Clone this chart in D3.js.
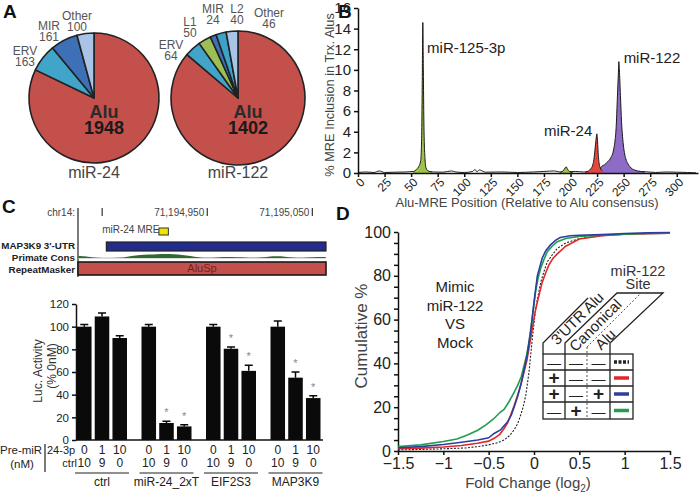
<!DOCTYPE html>
<html lang="en">
<head>
  <meta charset="UTF-8">
  <title>Alu MRE figure</title>
  <script src="https://cdnjs.cloudflare.com/ajax/libs/d3/7.8.5/d3.min.js"></script>
  <style>
    body {
      margin: 0;
      background: white;
    }
    svg {
      font-family: "Liberation Sans", Arial, sans-serif;
    }
    .axis path, .axis line {
      stroke: #111;
      stroke-width: 1.5;
    }
    .axis text {
      fill: #222;
    }
  </style>
</head>
<body>
  <script>
    // ---- A: repeat families hosting MREs
    var pie24Labels = ["Alu", "ERV", "MIR", "Other"];
    var pie24Values = [1948, 163, 161, 100];
    var pie122Labels = ["Alu", "ERV", "L1", "MIR", "L2", "Other"];
    var pie122Values = [1402, 64, 50, 24, 40, 46];

    // ---- B: MRE position along the Alu consensus
    var bTicks = [0, 25, 50, 75, 100, 125, 150, 175, 200, 225, 250, 275, 300];
    var noisePos = [0, 8, 15, 20, 25, 35, 45, 52, 70, 80, 88, 92, 100, 108, 110, 112, 114, 120, 135, 150, 165, 175, 185, 190, 205, 212, 270, 280, 290, 300, 310, 318];
    var noiseVal = [0.05, 0.1, 0.05, 0.2, 0.05, 0.08, 0.1, 0.15, 0.1, 0.08, 0.2, 0.1, 0.05, 0.15, 0.35, 0.1, 0.3, 0.08, 0.1, 0.05, 0.1, 0.15, 0.2, 0.1, 0.15, 0.1, 0.12, 0.05, 0.1, 0.08, 0.05, 0.02];
    var mir125Pos = [52, 55, 57, 59, 60, 60.5, 61, 61.5, 62, 63, 64, 66, 70];
    var mir125Val = [0.1, 0.35, 0.6, 1.2, 4, 9, 14.6, 10, 5, 1.5, 0.5, 0.2, 0.1];
    var bumpPos = [190, 193, 195, 196, 197, 199, 202];
    var bumpVal = [0.05, 0.2, 0.5, 0.6, 0.4, 0.15, 0.05];
    var mir24Pos = [214, 217, 219, 221, 222, 223, 224, 224.8, 225.5, 226, 227, 228, 230];
    var mir24Val = [0.1, 0.2, 0.4, 0.8, 1.3, 2.2, 3.2, 3.8, 3, 2, 0.9, 0.5, 0.2];
    var mir122Pos = [222, 226, 228, 230, 232, 234, 236, 238, 240, 241, 242, 243, 244, 245, 245.5, 246, 247, 248, 249, 250, 252, 254, 256, 258, 260, 263, 266, 270];
    var mir122Val = [0.3, 0.4, 0.5, 0.7, 0.8, 1, 1.2, 1.5, 2, 2.5, 3.2, 4.5, 7, 9.5, 10.8, 10, 7.5, 5, 3.5, 2.5, 1.4, 0.9, 0.6, 0.4, 0.3, 0.2, 0.15, 0.1];

    // ---- C: genome browser + luciferase
    var consPos = [71194827, 71194835, 71194842, 71194850, 71194860, 71194870, 71194878, 71194886, 71194894, 71194902, 71194910, 71194918, 71194926, 71194934, 71194942, 71194950, 71194958, 71194966, 71194974, 71194982, 71194990, 71195000, 71195008, 71195016, 71195024, 71195032, 71195040, 71195050, 71195058, 71195063];
    var consVal = [0.3, 0.25, 0.05, 0, 0, 0.05, 0.3, 0.45, 0.5, 0.55, 0.6, 0.55, 0.45, 0.3, 0.1, 0, 0.05, 0.15, 0.15, 0.1, 0, 0.05, 0.2, 0.25, 0.2, 0.05, 0, 0.1, 0.15, 0.1];
    var utrRange = [71194854, 71195063];
    var aluRange = [71194827, 71195063];
    var mreRange = [71194904, 71194913];

    var lucGroups = ["ctrl", "miR-24_2xT", "EIF2S3", "MAP3K9"];
    var pre24 = ["0", "1", "10"];
    var preCtrl = ["10", "9", "0"];
    var lucValues = [[100, 109, 90], [100, 15, 12], [100, 80.5, 61], [100, 55, 37]];
    var lucErrors = [[2, 3, 2], [2, 1.5, 1.5], [2, 1.5, 5], [5, 5, 2]];
    var lucSignif = [[false, false, false], [false, true, true], [false, true, true], [false, true, true]];

    // ---- D: cumulative fold change
    var mockX = [-1.5, -1.25, -1, -0.75, -0.62, -0.5, -0.4, -0.33, -0.27, -0.22, -0.18, -0.147, -0.12, -0.09, -0.055, -0.018, 0.018, 0.05, 0.074, 0.11, 0.147, 0.2, 0.257, 0.35, 0.5, 0.75, 1, 1.25, 1.5];
    var mockY = [0.5, 0.7, 1, 1.4, 2, 2.8, 3.8, 5, 7, 9.6, 12.5, 16.4, 20, 25.6, 36, 51.6, 65, 72, 77, 82, 86.4, 89.5, 92.5, 95, 97, 98.3, 99, 99.3, 99.5];
    var redX = [-1.5, -1.25, -1, -0.8, -0.625, -0.5, -0.44, -0.38, -0.33, -0.29, -0.257, -0.22, -0.18, -0.14, -0.11, -0.08, -0.055, -0.018, 0.01, 0.037, 0.09, 0.13, 0.165, 0.21, 0.257, 0.35, 0.5, 0.75, 1, 1.25, 1.5];
    var redY = [1, 1.3, 1.8, 2.5, 3.5, 4.5, 5.8, 7.5, 10.3, 13, 16.4, 20.5, 25.6, 31, 36, 41, 47, 56, 63, 68, 77, 81.5, 85, 88, 90, 93.5, 96.8, 98.3, 99, 99.2, 99.4];
    var blueX = [-1.5, -1.25, -1, -0.8, -0.62, -0.5, -0.44, -0.37, -0.33, -0.29, -0.25, -0.22, -0.18, -0.147, -0.11, -0.074, -0.037, 0, 0.037, 0.09, 0.13, 0.18, 0.24, 0.29, 0.4, 0.5, 0.75, 1, 1.25, 1.5];
    var blueY = [1.5, 2, 3, 4, 5, 6, 8, 9.6, 11.5, 13.4, 16.5, 20, 25, 30, 37, 44, 54.5, 68, 80, 88, 91.5, 94, 96.3, 97.5, 98.3, 98.5, 98.8, 99.3, 99.6, 99.8];
    var greenX = [-1.5, -1.25, -1, -0.85, -0.735, -0.62, -0.53, -0.45, -0.37, -0.33, -0.276, -0.23, -0.18, -0.14, -0.11, -0.08, -0.055, -0.018, 0.018, 0.045, 0.074, 0.11, 0.147, 0.2, 0.257, 0.35, 0.5, 0.75, 1, 1.25, 1.5];
    var greenY = [2, 2.8, 4.3, 5.5, 7.3, 9.5, 11.9, 14.5, 17.8, 19, 22.5, 26, 30, 34, 39, 44, 50, 61, 73, 79, 83.5, 87.5, 91, 93.5, 95.6, 97, 98, 98.5, 99, 99.3, 99.5];
    var dTicksX = [-1.5, -1, -0.5, 0, 0.5, 1, 1.5];
    var legUtr = ["\u2014", "+", "+", "\u2014"];
    var legCan = ["\u2014", "\u2014", "\u2014", "+"];
    var legAlu = ["\u2014", "\u2014", "+", "\u2014"];
    var legColors = ["#222", "#e3262b", "#2a3f9e", "#1f9e4c"];

    var w = 700;
    var h = 495;

    var svg = d3.select("body").append("svg")
      .attr("width", w)
      .attr("height", h);

    function panelLetter(t, x, y) {
      svg.append("text").attr("x", x).attr("y", y)
        .attr("font-size", 19).attr("font-weight", "bold").attr("fill", "#111")
        .text(t);
    }
    panelLetter("A", 3, 18);
    panelLetter("B", 338, 18);
    panelLetter("C", 2, 213);
    panelLetter("D", 336, 220);

    function zipPts(xs, ys) {
      return xs.map(function(x, i) { return [x, ys[i]]; });
    }

    // ================= A =================
    var pieColor = {Alu: "#c4504c", ERV: "#41a5c9", MIR: "#3d70b4", Other: "#a9c4e6", L1: "#9cbf55", L2: "#3aa3c7"};

    function drawPie(labels, values, cx, cy, r, title, outer) {
      var data = labels.map(function(l, i) { return {label: l, v: values[i]}; });
      var arcs = d3.pie().sort(null).value(function(d) { return d.v; })(data);
      var arc = d3.arc().innerRadius(0).outerRadius(r);
      var g = svg.append("g").attr("transform", "translate(" + cx + "," + cy + ")");
      g.selectAll("path")
        .data(arcs)
        .enter()
        .append("path")
        .attr("d", arc)
        .attr("fill", function(d) { return pieColor[d.data.label]; })
        .attr("stroke", "#222")
        .attr("stroke-width", 1.6)
        .attr("stroke-linejoin", "round");

      g.append("text").attr("x", 10).attr("y", 20).attr("text-anchor", "middle")
        .attr("font-size", 18).attr("font-weight", "bold").attr("fill", "#2b2b2b")
        .text(data[0].label);
      g.append("text").attr("x", 10).attr("y", 36).attr("text-anchor", "middle")
        .attr("font-size", 18).attr("font-weight", "bold").attr("fill", "#1a1a1a")
        .text(data[0].v);

      svg.append("text").attr("x", cx).attr("y", 178).attr("text-anchor", "middle")
        .attr("font-size", 16).attr("fill", "#444")
        .text(title);

      data.slice(1).forEach(function(d) {
        var p = outer[d.label];
        svg.append("text").attr("x", p[0]).attr("y", p[1]).attr("text-anchor", "middle")
          .attr("font-size", 12).attr("fill", "#555").text(d.label);
        svg.append("text").attr("x", p[0]).attr("y", p[1] + 11).attr("text-anchor", "middle")
          .attr("font-size", 12).attr("fill", "#555").text(d.v);
      });
    }

    drawPie(pie24Labels, pie24Values, 94, 98, 65, "miR-24",
      {ERV: [25, 55], MIR: [49, 30], Other: [77, 20]});
    drawPie(pie122Labels, pie122Values, 238, 98, 67, "miR-122",
      {ERV: [171, 49], L1: [190, 26], MIR: [213, 13], L2: [237, 13], Other: [269, 17]});

    // ================= B =================
    var bx = d3.scaleLinear().domain([0, 320]).range([358, 698]);
    var by = d3.scaleLinear().domain([0, 16]).range([173, 8]);

    var bArea = d3.area()
      .x(function(d) { return bx(d[0]); })
      .y0(by(0))
      .y1(function(d) { return by(d[1]); })
      .curve(d3.curveMonotoneX);
    var bLine = d3.line()
      .x(function(d) { return bx(d[0]); })
      .y(function(d) { return by(d[1]); })
      .curve(d3.curveMonotoneX);

    svg.append("path").attr("d", bLine(zipPts(noisePos, noiseVal)))
      .attr("fill", "none").attr("stroke", "#222").attr("stroke-width", 1);

    var bSeries = [
      {pts: zipPts(mir125Pos, mir125Val), fill: "#9cc24a"},
      {pts: zipPts(bumpPos, bumpVal), fill: "#9cc24a"},
      {pts: zipPts(mir122Pos, mir122Val), fill: "#8e6bc4"},
      {pts: zipPts(mir24Pos, mir24Val), fill: "#e5463d"}
    ];
    bSeries.forEach(function(s) {
      svg.append("path").attr("d", bArea(s.pts)).attr("fill", s.fill);
      svg.append("path").attr("d", bLine(s.pts))
        .attr("fill", "none").attr("stroke", "#1a1a1a").attr("stroke-width", 1);
    });

    svg.append("g").attr("class", "axis")
      .attr("transform", "translate(358,0)")
      .call(d3.axisLeft(by).tickValues(d3.range(0, 17, 2)).tickSize(4).tickSizeOuter(0))
      .selectAll("text").attr("font-size", 15).attr("font-family", null);

    var bxAxis = svg.append("g").attr("class", "axis")
      .attr("transform", "translate(0," + by(0) + ")")
      .call(d3.axisBottom(bx).tickValues(bTicks).tickSize(4).tickSizeOuter(0));
    bxAxis.selectAll("text")
      .attr("font-size", 12).attr("font-family", null)
      .attr("x", 0).attr("y", 0).attr("dy", "0.35em")
      .attr("text-anchor", "end")
      .attr("transform", "translate(4,7) rotate(-45)");

    svg.append("text").attr("x", 527).attr("y", 207).attr("text-anchor", "middle")
      .attr("font-size", 13).attr("fill", "#444")
      .text("Alu-MRE Position (Relative to Alu consensus)");
    svg.append("text").attr("transform", "translate(334,95) rotate(-90)")
      .attr("text-anchor", "middle").attr("font-size", 12.8).attr("fill", "#444")
      .text("% MRE Inclusion in Trx. Alus");

    svg.append("text").attr("x", bx(65)).attr("y", 53).attr("font-size", 15).attr("fill", "#222").text("miR-125-3p");
    svg.append("text").attr("x", bx(250)).attr("y", 63).attr("font-size", 15).attr("fill", "#222").text("miR-122");
    svg.append("text").attr("x", bx(175)).attr("y", 136).attr("font-size", 15).attr("fill", "#222").text("miR-24");

    // ================= C: browser =================
    var gx = d3.scaleLinear().domain([71194827, 71195063]).range([78, 326]);
    var gy = d3.scaleLinear().domain([0, 1]).range([258, 251]);

    svg.append("line").attr("x1", 78).attr("x2", 78).attr("y1", 208).attr("y2", 277)
      .attr("stroke", "#222").attr("stroke-width", 1.2);
    svg.append("text").attr("x", 75).attr("y", 216).attr("text-anchor", "end")
      .attr("font-size", 10).attr("fill", "#444").text("chr14:");

    [71194850, 71194950, 71195050].forEach(function(p) {
      svg.append("line").attr("x1", gx(p)).attr("x2", gx(p)).attr("y1", 208).attr("y2", 216)
        .attr("stroke", "#333").attr("stroke-width", 1.2);
      if (p !== 71194850) {
        svg.append("text").attr("x", gx(p) - 3).attr("y", 216).attr("text-anchor", "end")
          .attr("font-size", 10).attr("fill", "#444")
          .text(d3.format(",")(p));
      }
    });

    svg.append("text").attr("x", gx(71194850)).attr("y", 233)
      .attr("font-size", 10).attr("fill", "#444").text("miR-24 MRE");
    svg.append("rect").attr("x", gx(mreRange[0])).attr("y", 228)
      .attr("width", gx(mreRange[1]) - gx(mreRange[0])).attr("height", 7)
      .attr("fill", "#f2e400").attr("stroke", "#333").attr("stroke-width", 1);

    svg.append("rect").attr("x", gx(utrRange[0])).attr("y", 242)
      .attr("width", gx(utrRange[1]) - gx(utrRange[0])).attr("height", 9)
      .attr("fill", "#232b8c").attr("stroke", "#222").attr("stroke-width", 1.2);

    svg.append("line").attr("x1", 78).attr("x2", 326).attr("y1", gy(0)).attr("y2", gy(0))
      .attr("stroke", "#bbb").attr("stroke-width", 1);
    svg.append("path")
      .attr("d", d3.area().x(function(d) { return gx(d[0]); }).y0(gy(0)).y1(function(d) { return gy(d[1]); })
        .curve(d3.curveBasis)(zipPts(consPos, consVal)))
      .attr("fill", "#2f6b2f");

    svg.append("rect").attr("x", gx(aluRange[0])).attr("y", 262)
      .attr("width", gx(aluRange[1]) - gx(aluRange[0])).attr("height", 13)
      .attr("fill", "#c4504c").attr("stroke", "#1a1a1a").attr("stroke-width", 1.6);
    svg.append("text").attr("x", 202).attr("y", 272).attr("text-anchor", "middle")
      .attr("font-size", 11).attr("fill", "#6e2420").text("AluSp");

    [["MAP3K9 3'-UTR", 249], ["Primate Cons", 261], ["RepeatMasker", 273]].forEach(function(l) {
      svg.append("text").attr("x", 75).attr("y", l[1]).attr("text-anchor", "end")
        .attr("font-size", 9.8).attr("font-weight", "bold").attr("fill", "#222").text(l[0]);
    });

    // ================= C: luciferase bars =================
    var cx0 = d3.scaleBand().domain(lucGroups).range([70, 328]);
    var cx1 = d3.scaleBand().domain([0, 1, 2]).range([7, 57]).paddingInner(0.18);
    var cy = d3.scaleLinear().domain([0, 120]).range([440, 304]);

    svg.append("g").attr("class", "axis")
      .attr("transform", "translate(76,0)")
      .call(d3.axisLeft(cy).tickValues(d3.range(0, 121, 20)).tickSize(4).tickSizeOuter(0))
      .selectAll("text").attr("font-size", 11.5).attr("font-family", null);
    svg.append("line").attr("x1", 76).attr("x2", 323).attr("y1", cy(0)).attr("y2", cy(0))
      .attr("stroke", "#111").attr("stroke-width", 1.5);

    var cGroup = svg.selectAll(".lucgroup")
      .data(lucGroups)
      .enter()
      .append("g")
      .attr("class", "lucgroup")
      .attr("transform", function(d) { return "translate(" + cx0(d) + ",0)"; });

    cGroup.each(function(grp, gi) {
      var g = d3.select(this);
      var bars = lucValues[gi].map(function(v, i) {
        return {i: i, v: v, e: lucErrors[gi][i], s: lucSignif[gi][i]};
      });
      g.selectAll("rect")
        .data(bars)
        .enter()
        .append("rect")
        .attr("x", function(d) { return cx1(d.i); })
        .attr("y", function(d) { return cy(d.v); })
        .attr("width", cx1.bandwidth())
        .attr("height", function(d) { return cy(0) - cy(d.v); })
        .attr("fill", "#0a0a0a");
      g.selectAll(".err")
        .data(bars)
        .enter()
        .append("path")
        .attr("class", "err")
        .attr("d", function(d) {
          var xm = cx1(d.i) + cx1.bandwidth() / 2;
          return "M" + xm + "," + cy(d.v) + "V" + cy(d.v + d.e) + "M" + (xm - 4) + "," + cy(d.v + d.e) + "H" + (xm + 4);
        })
        .attr("stroke", "#0a0a0a").attr("stroke-width", 1.5).attr("fill", "none");
      g.selectAll(".star")
        .data(bars.filter(function(d) { return d.s; }))
        .enter()
        .append("text")
        .attr("class", "star")
        .attr("x", function(d) { return cx1(d.i) + cx1.bandwidth() / 2; })
        .attr("y", function(d) { return cy(d.v + d.e) - 5; })
        .attr("text-anchor", "middle").attr("font-size", 11).attr("fill", "#888")
        .text("*");
      g.selectAll(".p24")
        .data(pre24)
        .enter()
        .append("text")
        .attr("class", "p24")
        .attr("x", function(d, i) { return cx1(i) + cx1.bandwidth() / 2; })
        .attr("y", 454)
        .attr("text-anchor", "middle").attr("font-size", 12).attr("fill", "#222")
        .text(function(d) { return d; });
      g.selectAll(".pctrl")
        .data(preCtrl)
        .enter()
        .append("text")
        .attr("class", "pctrl")
        .attr("x", function(d, i) { return cx1(i) + cx1.bandwidth() / 2; })
        .attr("y", 467)
        .attr("text-anchor", "middle").attr("font-size", 12).attr("fill", "#222")
        .text(function(d) { return d; });
      g.append("line")
        .attr("x1", cx1(0) - 2).attr("x2", cx1(2) + cx1.bandwidth() + 2)
        .attr("y1", 473).attr("y2", 473)
        .attr("stroke", "#222").attr("stroke-width", 1.2);
      g.append("text")
        .attr("x", (cx1(0) + cx1(2) + cx1.bandwidth()) / 2).attr("y", 486)
        .attr("text-anchor", "middle").attr("font-size", 12).attr("fill", "#222")
        .text(grp);
    });

    svg.append("text").attr("transform", "translate(42,371) rotate(-90)")
      .attr("text-anchor", "middle").attr("font-size", 12).attr("fill", "#333").text("Luc. Activity");
    svg.append("text").attr("transform", "translate(56,366) rotate(-90)")
      .attr("text-anchor", "middle").attr("font-size", 12).attr("fill", "#333").text("(% 0nM)");

    svg.append("text").attr("x", 0).attr("y", 454).attr("font-size", 11.5).attr("fill", "#222").text("Pre-miR");
    svg.append("text").attr("x", 22).attr("y", 468).attr("text-anchor", "middle").attr("font-size", 11.5).attr("fill", "#222").text("(nM)");
    svg.append("line").attr("x1", 45).attr("x2", 45).attr("y1", 444).attr("y2", 472)
      .attr("stroke", "#222").attr("stroke-width", 1.2);
    svg.append("text").attr("x", 47).attr("y", 454).attr("font-size", 11).attr("fill", "#222").text("24-3p");
    svg.append("text").attr("x", 77).attr("y", 467).attr("text-anchor", "end").attr("font-size", 11).attr("fill", "#222").text("ctrl");

    // ================= D =================
    var dx = d3.scaleLinear().domain([-1.5, 1.5]).range([398, 670]);
    var dy = d3.scaleLinear().domain([0, 100]).range([451, 232]);

    svg.append("g").attr("class", "axis")
      .attr("transform", "translate(398,0)")
      .call(d3.axisLeft(dy).tickValues(d3.range(0, 101, 5)).tickSize(4).tickSizeOuter(0)
        .tickFormat(function(d) { return d % 20 === 0 ? d : ""; }))
      .selectAll("text").attr("font-size", 16).attr("font-family", null);
    svg.append("g").attr("class", "axis")
      .attr("transform", "translate(0,451)")
      .call(d3.axisBottom(dx).tickValues(dTicksX).tickSize(4).tickSizeOuter(0)
        .tickFormat(d3.format("")))
      .selectAll("text").attr("font-size", 16).attr("font-family", null);

    var xl = svg.append("text").attr("x", 528).attr("y", 488).attr("text-anchor", "middle")
      .attr("font-size", 15).attr("fill", "#444");
    xl.append("tspan").text("Fold Change (log");
    xl.append("tspan").attr("font-size", 10).attr("dy", 4).text("2");
    xl.append("tspan").attr("dy", -4).text(")");

    svg.append("text").attr("transform", "translate(367,336) rotate(-90)")
      .attr("text-anchor", "middle").attr("font-size", 17).attr("fill", "#444").text("Cumulative %");

    var dLine = d3.line()
      .x(function(d) { return dx(d[0]); })
      .y(function(d) { return dy(d[1]); });
    var dSeries = [
      {pts: zipPts(mockX, mockY), color: "#222", dash: "2,1.5", width: 1.1},
      {pts: zipPts(redX, redY), color: "#e3262b", dash: null, width: 1.6},
      {pts: zipPts(greenX, greenY), color: "#1f9e4c", dash: null, width: 1.6},
      {pts: zipPts(blueX, blueY), color: "#2a3f9e", dash: null, width: 1.6}
    ];
    dSeries.forEach(function(s) {
      svg.append("path").attr("d", dLine(s.pts))
        .attr("fill", "none").attr("stroke", s.color)
        .attr("stroke-width", s.width)
        .attr("stroke-dasharray", s.dash);
    });

    var mimic = ["Mimic", "miR-122", "VS", "Mock"];
    mimic.forEach(function(t, i) {
      svg.append("text").attr("x", 455).attr("y", 292 + i * 18.5)
        .attr("text-anchor", "middle").attr("font-size", 15).attr("fill", "#222").text(t);
    });
    svg.append("text").attr("x", 638).attr("y", 276).attr("text-anchor", "middle")
      .attr("font-size", 14.5).attr("fill", "#333").text("miR-122");
    svg.append("text").attr("x", 638).attr("y", 289).attr("text-anchor", "middle")
      .attr("font-size", 14.5).attr("fill", "#333").text("Site");

    // legend table
    var colX = [543, 565, 587, 610, 633];
    var rowY = [354, 370, 386, 402, 419];
    var tbl = svg.append("g").attr("stroke", "#222").attr("stroke-width", 1.3).attr("fill", "none");
    tbl.append("rect").attr("x", colX[0]).attr("y", rowY[0])
      .attr("width", colX[4] - colX[0]).attr("height", rowY[4] - rowY[0]).attr("fill", "white");
    rowY.slice(1, 4).forEach(function(y) {
      tbl.append("line").attr("x1", colX[0]).attr("x2", colX[4]).attr("y1", y).attr("y2", y);
    });
    [1, 3].forEach(function(c) {
      tbl.append("line").attr("x1", colX[c]).attr("x2", colX[c]).attr("y1", rowY[0]).attr("y2", rowY[4]);
    });
    tbl.append("line").attr("x1", colX[2]).attr("x2", colX[2]).attr("y1", 347).attr("y2", rowY[4])
      .attr("stroke-dasharray", "2,2").attr("stroke-width", 0.8);
    tbl.append("path").attr("d", "M543,354V343L588,298");
    tbl.append("path").attr("d", "M565,354V343L617,293H663L610,343V354");
    tbl.append("line").attr("x1", 587).attr("y1", 347).attr("x2", 640).attr("y2", 294)
      .attr("stroke-dasharray", "2,2").attr("stroke-width", 0.8);

    var hd = [["3'UTR Alu", 581, 322], ["Canonical", 599, 329], ["Alu", 609, 343]];
    hd.forEach(function(d) {
      svg.append("text").attr("transform", "translate(" + d[1] + "," + d[2] + ") rotate(-45)")
        .attr("text-anchor", "middle").attr("font-size", 15).attr("fill", "#222").text(d[0]);
    });

    [legUtr, legCan, legAlu].forEach(function(col, c) {
      svg.selectAll(".leg" + c)
        .data(col)
        .enter()
        .append("text")
        .attr("x", (colX[c] + colX[c + 1]) / 2)
        .attr("y", function(d, i) { return (rowY[i] + rowY[i + 1]) / 2 + 6; })
        .attr("text-anchor", "middle")
        .attr("font-size", function(d) { return d === "+" ? 19 : 14; })
        .attr("font-weight", function(d) { return d === "+" ? "bold" : "normal"; })
        .attr("fill", "#222")
        .text(function(d) { return d; });
    });
    svg.selectAll(".legline")
      .data(legColors)
      .enter()
      .append("line")
      .attr("x1", 614).attr("x2", 629)
      .attr("y1", function(d, i) { return (rowY[i] + rowY[i + 1]) / 2; })
      .attr("y2", function(d, i) { return (rowY[i] + rowY[i + 1]) / 2; })
      .attr("stroke", function(d) { return d; })
      .attr("stroke-width", 3.5)
      .attr("stroke-dasharray", function(d, i) { return i === 0 ? "3,1.5" : null; });
  </script>
</body>
</html>
